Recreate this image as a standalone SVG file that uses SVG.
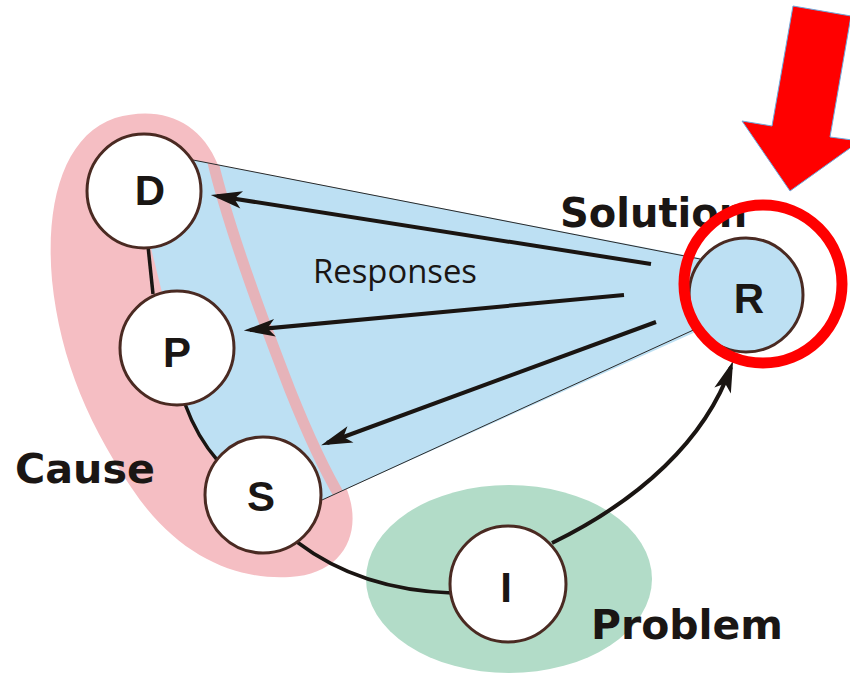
<svg xmlns="http://www.w3.org/2000/svg" width="850" height="674" viewBox="0 0 850 674">
<style>
.node{fill:#fff;stroke:#4a2a22;stroke-width:3}
.lbl{font-family:"Liberation Sans",Arial,sans-serif;font-weight:bold;font-size:42px;fill:#1a1614;text-anchor:middle}
.big{font-family:"DejaVu Sans",Verdana,sans-serif;font-weight:bold;font-size:40px;fill:#1a1614}
.conn{fill:none;stroke:#1a1512;stroke-width:3.5}
.arr{fill:none;stroke:#1a1512;stroke-width:4;marker-end:url(#ah)}
</style>
<defs>
<marker id="ah" markerUnits="userSpaceOnUse" markerWidth="40" markerHeight="30" viewBox="-25 -10 32 20" refX="0" refY="0" orient="auto">
<path d="M5,0 L-20,-7 L-14,0 L-20,7 Z" fill="#1a1512"/>
</marker>
<clipPath id="fanclip">
<path d="M150,190 L193,160 L700,258 L700,330 L322,500 L263,495 L217,460 Q197,435 185,405 L176,349 L151,248 Z"/>
</clipPath>
</defs>
<g id="cause-region">
<path d="M218,165 C200,120 160,105 115,118 C65,135 45,200 52,280 C60,360 90,430 140,500 C185,560 240,580 290,577 C345,574 365,530 345,485 C320,430 240,260 218,165 Z" fill="#f5bec3"/>
</g>
<g id="problem-region">
<ellipse cx="509" cy="579" rx="143" ry="94" fill="#b2dcc8"/>
</g>
<g id="responses-fan">
<path d="M150,190 L193,160 L700,258 L700,330 L322,500 L263,495 L217,460 Q197,435 185,405 L176,349 L151,248 Z" fill="#bde0f3"/>
<path d="M212,158 C225,215 255,300 290,390 C310,440 330,480 342,500" fill="none" stroke="#e6b3b9" stroke-width="11" clip-path="url(#fanclip)"/>
<line x1="193" y1="160" x2="700" y2="259" stroke="#2a2a2a" stroke-width="1"/>
<line x1="322" y1="500" x2="700" y2="327" stroke="#2a2a2a" stroke-width="1"/>
<text x="395" y="283" font-family="'Open Sans','Liberation Sans',sans-serif" font-size="33" fill="#1a1614" text-anchor="middle" textLength="164" lengthAdjust="spacingAndGlyphs">Responses</text>
</g>
<g id="connectors">
<line class="conn" x1="148" y1="246" x2="153" y2="294"/>
<path class="conn" d="M185,404 Q197,437 218,461"/>
<path class="conn" d="M297,542 Q360,590 452,593"/>
<path class="arr" d="M552,543 C640,500 705,440 731,367"/>
<line class="arr" x1="651" y1="264" x2="217" y2="196"/>
<line class="arr" x1="624" y1="295" x2="250" y2="330"/>
<line class="arr" x1="656" y1="322" x2="327" y2="443"/>
</g>
<g id="node-D">
<circle class="node" cx="144" cy="191" r="57"/>
<text class="lbl" x="150" y="205">D</text>
</g>
<g id="node-P">
<circle class="node" cx="177" cy="348" r="57"/>
<text class="lbl" x="177" y="367">P</text>
</g>
<g id="node-S">
<circle class="node" cx="263" cy="495" r="58"/>
<text class="lbl" x="261" y="511">S</text>
</g>
<g id="node-I">
<circle class="node" cx="508" cy="584" r="58"/>
<text class="lbl" x="506" y="602">I</text>
</g>
<g id="node-R">
<circle class="node" cx="746" cy="295" r="57" style="fill:#bde0f3"/>
<text class="lbl" x="749" y="313">R</text>
</g>
<g id="labels">
<text class="big" x="560" y="227">Solution</text>
<text class="big" x="15" y="483" textLength="140" lengthAdjust="spacingAndGlyphs">Cause</text>
<text class="big" x="591" y="639" textLength="192" lengthAdjust="spacingAndGlyphs">Problem</text>
</g>
<g id="highlight">
<circle cx="763" cy="284" r="79" fill="none" stroke="#ff0000" stroke-width="11"/>
<polygon points="793,6 851,16 830,137 860,141 790,191 742,121 772,126" fill="#ff0000" stroke="#6fa8dc" stroke-width="1"/>
</g>
</svg>
